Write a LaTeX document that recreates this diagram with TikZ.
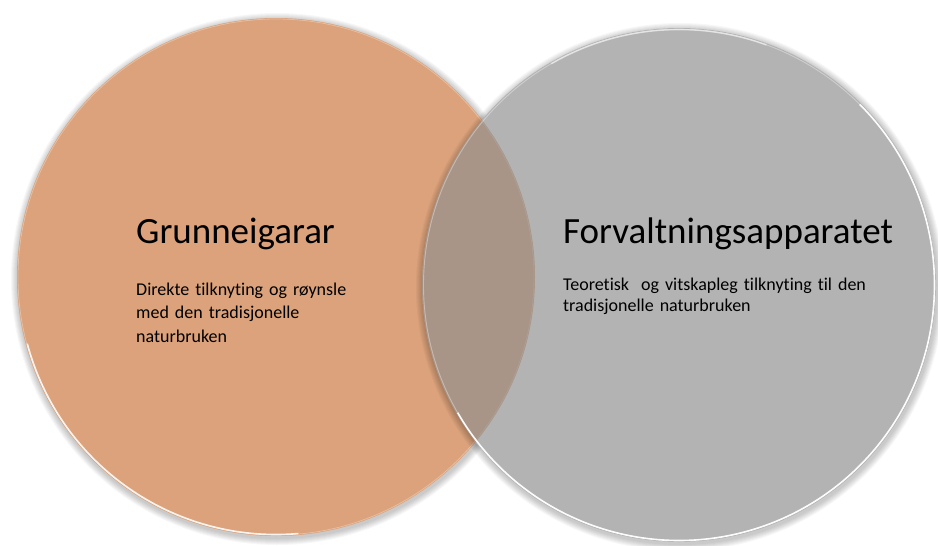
\documentclass[tikz,border=0pt]{standalone}
\usepackage{fontspec}
\setmainfont{Carlito}[Ligatures={NoCommon}]
\definecolor{lorange}{RGB}{219,162,123}
\definecolor{rgray}{RGB}{143,143,143}
\tikzset{
  title/.style={anchor=base west, inner sep=0pt, font=\fontsize{37}{44}\selectfont},
  body/.style={anchor=base west, inner sep=0pt, align=left, text width=330pt, font=\fontsize{18}{23.5}\selectfont},
  rim/.style={white, line width=1.6pt, opacity=0.95},
}
\begin{document}
\begin{tikzpicture}[x=1pt,y=-1pt]
\useasboundingbox (0,0) rectangle (938,546);
\fill[white] (0,0) rectangle (938,546);
% soft shadow of the left disc
\begin{scope}[even odd rule]
  \clip (0,0) rectangle (938,546) (679,285) circle [radius=257];
  \foreach \i in {1,...,7}{
    \fill[black, opacity=0.03] (277,279) circle [radius=259+\i];
  }
\end{scope}
\node[circle, fill=lorange, minimum size=518pt, inner sep=0pt] (L) at (276,277) {};
\draw[rim, opacity=0.85] (L.center) ++(85:257.5) arc [start angle=85, end angle=165, radius=257.5];
\draw[white, opacity=0.3, line width=0.8pt] (L.center) circle [radius=258];
% soft shadow of the right disc
\begin{scope}[even odd rule]
  \clip (0,0) rectangle (938,546) (679,285) circle [radius=257];
  \foreach \i in {1,...,7}{
    \fill[black, opacity=0.03] (680,287) circle [radius=257+\i];
  }
\end{scope}
\node[circle, fill=rgray, fill opacity=0.67, minimum size=514pt, inner sep=0pt] (R) at (679,285) {};
% highlight rims
\draw[white, opacity=0.35, line width=0.9pt] (R.center) circle [radius=255.5];
\draw[rim] (R.center) ++(-45:255.5) arc [start angle=-45, end angle=150, radius=255.5];
\draw[rim, opacity=0.5] (R.center) ++(240:255.5) arc [start angle=240, end angle=290, radius=255.5];
% texts
\node[title] (t1) at (136,243) {Grunneigarar};
\node[body] (b1) at (136,295) {Direkte tilknyting og røynsle\\med den tradisjonelle\\naturbruken};
\node[title] (t2) at (563,243) {Forvaltningsapparatet};
\node[body, font=\fontsize{18}{21}\selectfont] (b2) at (563,290) {Teoretisk\ \ og vitskapleg tilknyting til den\\tradisjonelle naturbruken};
\end{tikzpicture}
\end{document}
